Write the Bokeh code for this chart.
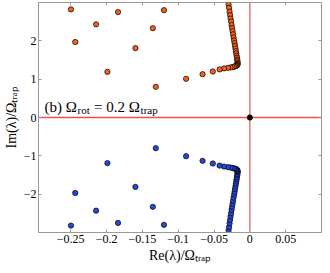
from bokeh.plotting import figure
from bokeh.models import Range1d, FixedTicker, LinearAxis, Label, Span
from bokeh.embed import file_html
from bokeh.resources import INLINE

# ---- data ----
scatter_re = [-0.2497, -0.2437, -0.2146, -0.1988, -0.1840, -0.1597, -0.1354, -0.1313, -0.1199]
upper_scatter_im = [2.82, 1.97, 2.43, 1.19, 2.75, 1.81, 2.33, 0.80, 2.80]
lower_scatter_im = [-2.82, -1.97, -2.43, -1.19, -2.75, -1.81, -2.33, -0.80, -2.80]

branch_re = [-0.0297, -0.0290, -0.0283, -0.0276, -0.0269, -0.0262, -0.0255, -0.0248, -0.0241, -0.0234,
             -0.0227, -0.0220, -0.0213, -0.0207, -0.0201, -0.0195, -0.0190, -0.0185, -0.0180, -0.0176,
             -0.0173, -0.0171, -0.0171, -0.0173, -0.0178, -0.0186, -0.0195, -0.0207, -0.0222, -0.0243,
             -0.0270, -0.0305, -0.0360, -0.0422, -0.0517, -0.0660, -0.0890]
upper_branch_im = [2.95, 2.86, 2.76, 2.67, 2.58, 2.50, 2.41, 2.33, 2.25, 2.17,
                   2.09, 2.01, 1.94, 1.87, 1.80, 1.73, 1.67, 1.61, 1.56, 1.51,
                   1.47, 1.43, 1.40, 1.38, 1.365, 1.355, 1.345, 1.335, 1.325, 1.315,
                   1.305, 1.295, 1.28, 1.255, 1.20, 1.13, 1.01]
lower_branch_im = [-2.95, -2.86, -2.76, -2.67, -2.58, -2.50, -2.41, -2.33, -2.25, -2.17,
                   -2.09, -2.01, -1.94, -1.87, -1.80, -1.73, -1.67, -1.61, -1.56, -1.51,
                   -1.47, -1.43, -1.40, -1.38, -1.365, -1.355, -1.345, -1.335, -1.325, -1.315,
                   -1.305, -1.295, -1.28, -1.255, -1.20, -1.13, -1.01]
origin_re = [0.0]
origin_im = [0.0]

x_ticks = [-0.25, -0.2, -0.15, -0.1, -0.05, 0, 0.05]
x_tick_labels = ["\u22120.25", "\u22120.2", "\u22120.15", "\u22120.1", "\u22120.05", "0", "0.05"]
y_ticks = [-2, -1, 0, 1, 2]
y_tick_labels = ["\u22122", "\u22121", "0", "1", "2"]

x_title = "Re(\u03bb)/\u03a9\u209c\u1d63\u2090\u209a"
y_title = "Im(\u03bb)/\u03a9\u209c\u1d63\u2090\u209a"

ORANGE = "#f0621e"
BLUE = "#2a48d4"
RED = "#f24f4f"
GRAY = "#999999"
FONT = "Liberation Serif"

p = figure(width=322, height=265,
           x_range=Range1d(-0.295, 0.1), y_range=Range1d(-3, 3),
           output_backend="svg", toolbar_location=None,
           min_border_left=33, min_border_right=1, min_border_top=2, min_border_bottom=31)
p.xgrid.visible = False
p.ygrid.visible = False
p.outline_line_color = GRAY
p.outline_line_width = 1
p.background_fill_color = "white"
p.border_fill_color = "white"

def style_axis(ax, ticks, labels, show_labels=True):
    ax.ticker = FixedTicker(ticks=ticks)
    ax.major_tick_in = 3
    ax.major_tick_out = 0
    ax.minor_tick_in = 0
    ax.minor_tick_out = 0
    ax.axis_line_color = GRAY
    ax.major_tick_line_color = GRAY
    if show_labels:
        ax.major_label_overrides = {t: l for t, l in zip(ticks, labels)}
        ax.major_label_text_font = FONT
        ax.major_label_text_font_size = "12px"
        ax.major_label_text_color = "black"
        ax.major_label_standoff = 2
        ax.axis_label_text_font = FONT
        ax.axis_label_text_font_size = "14px"
        ax.axis_label_text_font_style = "normal"
        ax.axis_label_text_color = "black"
        ax.axis_label_standoff = 2
    else:
        ax.major_label_overrides = {t: "" for t in ticks}
        ax.major_label_text_font_size = "1px"
        ax.major_label_standoff = 0
        ax.axis_line_color = None

style_axis(p.xaxis[0], x_ticks, x_tick_labels)
style_axis(p.yaxis[0], y_ticks, y_tick_labels)
p.xaxis[0].axis_label = x_title
p.yaxis[0].axis_label = y_title
top_ax = LinearAxis()
right_ax = LinearAxis()
style_axis(top_ax, x_ticks, x_tick_labels, show_labels=False)
style_axis(right_ax, y_ticks, y_tick_labels, show_labels=False)
p.add_layout(top_ax, "above")
p.add_layout(right_ax, "right")

# zero lines (red) through the origin
p.add_layout(Span(location=origin_im[0], dimension="width", line_color=RED,
                  line_width=1.5, level="underlay"))
p.add_layout(Span(location=origin_re[0], dimension="height", line_color=RED,
                  line_width=1.2, level="underlay"))

mk = dict(size=5.3, line_color="black", line_width=0.7)
p.scatter(scatter_re, upper_scatter_im, fill_color=ORANGE, **mk)
p.scatter(branch_re, upper_branch_im, fill_color=ORANGE, **mk)
p.scatter(scatter_re, lower_scatter_im, fill_color=BLUE, **mk)
p.scatter(branch_re, lower_branch_im, fill_color=BLUE, **mk)
p.scatter(origin_re, origin_im, fill_color="black", **mk)

def lab(x, y, text, size, xo=0, yo=0):
    p.add_layout(Label(x=x, y=y, text=text, x_offset=xo, y_offset=yo,
                       text_font=FONT, text_font_size=size, text_color="black",
                       text_align="left", text_baseline="alphabetic"))

# panel annotation
bx, by = -0.2865, 0.262
lab(bx, by, "(b) \u03a9", "15px")
lab(bx, by, "rot", "11px", xo=33, yo=-3)
lab(bx, by, "= 0.2 \u03a9", "15px", xo=49.5)
lab(bx, by, "trap", "11px", xo=96, yo=-3)

open("out.html", "w").write(file_html(p, INLINE))
